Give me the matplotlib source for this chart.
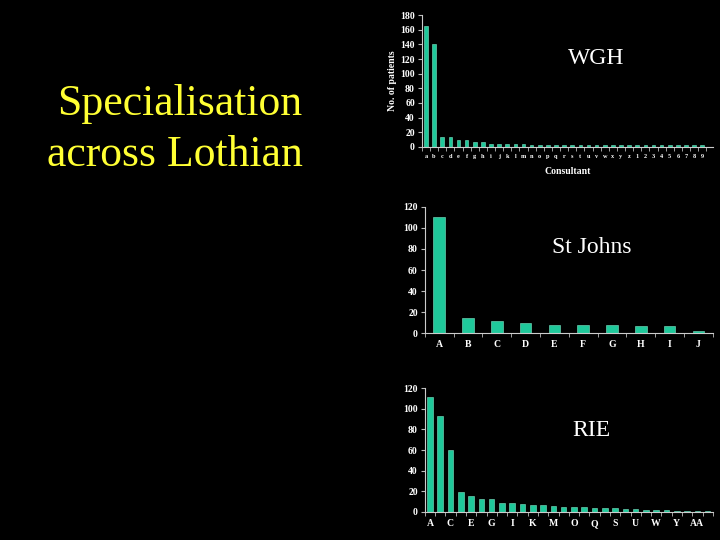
import matplotlib.pyplot as plt
import numpy as np

plt.rcParams["font.family"] = ["Liberation Serif", "DejaVu Serif"]

# WGH: consultants a-z then 1-9
wgh_labels = list("abcdefghijklmnopqrstuvwxyz") + [str(i) for i in range(1, 10)]
wgh_values = [165, 140, 13, 13, 10, 10, 6, 6, 4, 4, 4, 4, 4, 3, 3, 3, 3, 3,
              2, 2, 2, 2, 2, 2, 2, 2, 2, 2, 2, 2, 2, 2, 2, 2, 2]

# St Johns
sj_labels = ["A", "B", "C", "D", "E", "F", "G", "H", "I", "J"]
sj_values = [110, 14, 12, 10, 8, 8, 8, 7, 7, 2]

# RIE: A-Z, AA, AB (only every other one labelled)
rie_labels = list("ABCDEFGHIJKLMNOPQRSTUVWXYZ") + ["AA", "AB"]
rie_values = [112, 93, 60, 19, 15, 13, 13, 9, 9, 8, 7, 7, 6, 5, 5, 5, 4, 4, 4,
              3, 3, 2, 2, 2, 1, 1, 1, 1]

BAR = "#1fc99b"
EDGE = "#7fe6c6"

fig = plt.figure(figsize=(7.2, 5.4), dpi=100, facecolor="black")

fig.text(0.42, 0.760, "Specialisation\nacross Lothian", color="#ffff33",
         fontsize=31.5, ha="right", va="center", multialignment="right",
         linespacing=1.33)


def bar_panel(rect, labels, values, ymax, ystep, width, xlim, label_every=1,
              xfs=7, name="", name_xy=(0.6, 0.7)):
    ax = fig.add_axes(rect, facecolor="black")
    x = np.arange(len(values))
    ax.bar(x, values, width=width, color=BAR, edgecolor=EDGE, linewidth=0.4)
    ax.set_xlim(*xlim)
    ax.set_ylim(0, ymax)
    ax.set_yticks(np.arange(0, ymax + 1, ystep))
    ax.set_xticks(x[::label_every])
    ax.set_xticklabels(labels[::label_every])
    ax.set_xticks(np.arange(len(values) + 1) - 0.5, minor=True)
    ax.tick_params(axis="x", which="major", length=0, pad=5, labelsize=xfs,
                   colors="white")
    ax.tick_params(axis="x", which="minor", length=3, color="#bbbbbb",
                   direction="out")
    ax.tick_params(axis="y", length=3, color="#bbbbbb", labelsize=7,
                   colors="white", pad=2)
    for lab in ax.get_xticklabels() + ax.get_yticklabels():
        lab.set_fontweight("bold")
    for side in ("top", "right"):
        ax.spines[side].set_visible(False)
    for side in ("left", "bottom"):
        ax.spines[side].set_color("#cccccc")
        ax.spines[side].set_linewidth(0.8)
    ax.text(*name_xy, name, transform=ax.transAxes, color="white",
            fontsize=17, ha="center", va="center")
    return ax


ax1 = bar_panel([0.586, 0.728, 0.404, 0.244], wgh_labels, wgh_values, 180, 20,
                0.45, (-0.4, 35.3), xfs=4.5, name="WGH", name_xy=(0.6, 0.67))
ax1.set_ylabel("No. of patients", color="white", fontsize=7,
               fontweight="bold", labelpad=2)
ax1.set_xlabel("Consultant", color="white", fontsize=7, fontweight="bold",
               labelpad=6)

bar_panel([0.590, 0.383, 0.400, 0.234], sj_labels, sj_values, 120, 20,
          0.4, (-0.5, 9.5), name="St Johns", name_xy=(0.58, 0.68))

bar_panel([0.590, 0.052, 0.400, 0.229], rie_labels, rie_values, 120, 20,
          0.55, (-0.5, 27.5), label_every=2, name="RIE",
          name_xy=(0.58, 0.66))

fig.savefig("out.png", dpi=100, facecolor="black")
